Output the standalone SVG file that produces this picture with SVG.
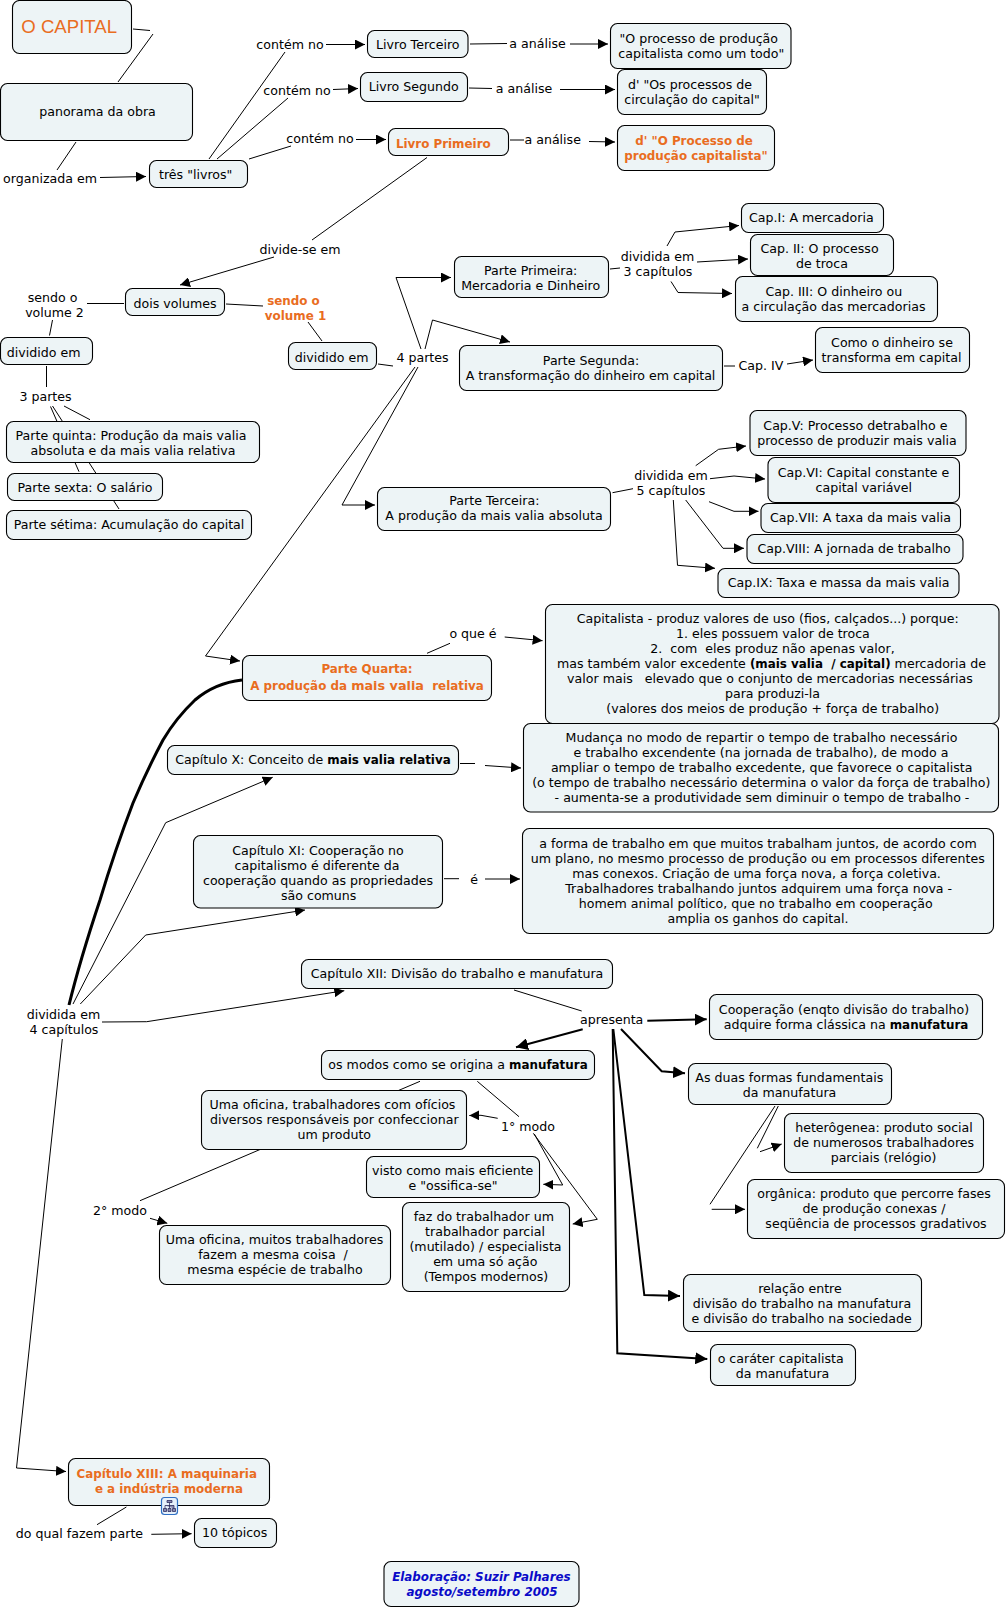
<svg xmlns="http://www.w3.org/2000/svg" width="1007" height="1609" viewBox="0 0 1007 1609">
<style>
text{font-family:"DejaVu Sans","Liberation Sans",sans-serif;font-size:12.6px;fill:#000;text-anchor:middle;white-space:pre}
.n{fill:#edf4f6;stroke:#000;stroke-width:1.1}
.b,text .b{font-weight:bold;font-size:11.9px}
.o,text .o{fill:#e96d1f;font-weight:bold;font-size:11.9px}
.c path{fill:none;stroke:#000;stroke-width:1}
.c .t{stroke-width:2;marker-end:url(#ahb)}
.c .a{marker-end:url(#ah)}
.c .t.a{marker-end:url(#ahb)}
</style>
<defs>
<marker id="ah" markerUnits="userSpaceOnUse" markerWidth="10" markerHeight="10" refX="10" refY="5" orient="auto" viewBox="0 0 10 10"><path d="M0,0L10,5L0,10z" fill="#000"/></marker>
<marker id="ahb" markerUnits="userSpaceOnUse" markerWidth="12" markerHeight="12" refX="10" refY="5" orient="auto" viewBox="0 0 10 10"><path d="M0,0L10,5L0,10z" fill="#000"/></marker>
</defs>
<rect width="1007" height="1609" fill="#fff"/>
<g id="connectors" class="c">
<path d="M133,29L150,30.5"/><path d="M153,34L118,82"/>
<path d="M76,142L57,170"/><path class="a" d="M100,177.5L146,176.5"/>
<path d="M209,159L285,52"/><path class="a" d="M326,44.5L365,44.5"/>
<path d="M217,159L288,98"/><path class="a" d="M333,89.5L358,88.5"/>
<path d="M249,159L291,146"/><path class="a" d="M356,139.5L386,139.5"/>
<path d="M470,44L507,43.5"/><path class="a" d="M570,44L608,44"/>
<path d="M469,88L492,88.5"/><path class="a" d="M560,89.5L615,89.5"/>
<path d="M510,140L524,140"/><path class="a" d="M589,141.5L615,142"/>
<path d="M427,157.5L312,240"/><path class="a" d="M274,257L180,285"/>
<path d="M124,303.5L87,303.5"/><path d="M52.5,320L49.5,335.5"/>
<path d="M46.5,366L46.5,387"/>
<path d="M226,304L263,306"/><path d="M308,322L322,341"/>
<path d="M378,364L393,366"/>
<path class="a" d="M421,349L396,277.5L451,277.5"/>
<path class="a" d="M425,349L432.5,320L510,342"/>
<path class="a" d="M418,367L342,505L375,505"/>
<path class="a" d="M415,367L205.5,656L240,661"/>
<path d="M610,269L620,268"/>
<path class="a" d="M667,246L675,232L739,225.5"/>
<path class="a" d="M697,262L748,259"/>
<path class="a" d="M671,281.5L678,292.5L732,293.5"/>
<path d="M724,366L735,366"/><path class="a" d="M787,364L813,360"/>
<path d="M50.5,406.5L79,471.7"/><path d="M52.5,406L119,509"/><path d="M64,406L90,419.7"/>
<path d="M612.5,492.7L633,488.7"/>
<path class="a" d="M695.7,465.7L718.6,449.3L746,446"/>
<path class="a" d="M710,478.7L734,476L765,479"/>
<path class="a" d="M709,501.7L734,511.3L758.5,511.3"/>
<path class="a" d="M685.7,500L723,548.3L744,548.3"/>
<path class="a" d="M673.3,500L677.5,565.3L715,568.3"/>
<path d="M427,653.3L450,643.3"/><path class="a" d="M504.7,637L542.6,640.7"/>
<path style="stroke-width:3" d="M242,680Q215,683 195,700Q176,718 163,740Q147,770 133,803Q115,850 100,900Q80,960 69,1005"/>
<path class="a" d="M73,1004L165.7,822.7L272.7,777.3"/>
<path class="a" d="M80.3,1004L145.7,935L305,910"/>
<path class="a" d="M102,1022L146.7,1021.7L344.3,990.7"/>
<path class="a" d="M62.3,1039L16.5,1468L66,1471.5"/>
<path d="M460,763.5L475,763.5"/><path class="a" d="M485,765.5L521,768"/>
<path d="M444,878.7L459,878.7"/><path class="a" d="M485,879L520,879"/>
<path d="M514,990L581.7,1011"/>
<path class="a t" d="M647.3,1020.7L706.7,1019.3"/>
<path class="a t" d="M582.7,1029.3L516,1047.3"/>
<path class="a t" d="M621,1029L661.7,1071.3L685,1073.3"/>
<path class="a t" d="M613.3,1029L644.3,1295L680,1296"/>
<path class="a t" d="M612.7,1029L617.3,1353.3L707.3,1359"/>
<path d="M420,1081.3L140,1200.7"/>
<path class="a" d="M150,1218.3L167.3,1223.3"/>
<path d="M477.3,1081.3L519,1116.7"/>
<path class="a" d="M497.7,1118.3L481,1115.3L469.3,1115.5"/>
<path class="a" d="M534.3,1134L562.7,1185L543.3,1184.3"/>
<path class="a" d="M533.3,1133.3L597.3,1219.3L572.7,1224"/>
<path d="M778.3,1106L757.3,1148.3"/><path class="a" d="M760,1151.7L781.7,1144"/>
<path d="M775,1106L710,1204.3"/><path class="a" d="M711.7,1209.3L745,1209.3"/>
<path d="M126.4,1507L97,1524.7"/><path class="a" d="M151.3,1534.3L191.6,1533.7"/>
</g>
<g id="labels">
<text x="290" y="49">contém no</text>
<text x="297" y="95">contém no</text>
<text x="320" y="143">contém no</text>
<text x="50" y="183">organizada em</text>
<text x="537.5" y="48">a análise</text>
<text x="524" y="93">a análise</text>
<text x="552.7" y="144">a análise</text>
<text x="300" y="254">divide-se em</text>
<text x="52.5" y="302">sendo o</text><text x="54.5" y="317">volume 2</text>
<text class="o" x="293.5" y="305">sendo o</text><text class="o" x="295.5" y="320">volume 1</text>
<text x="422.5" y="362">4 partes</text>
<text x="45.5" y="401">3 partes</text>
<text x="657.5" y="261">dividida em</text><text x="658" y="276">3 capítulos</text>
<text x="761" y="370">Cap. IV</text>
<text x="671" y="480">dividida em</text><text x="671" y="495">5 capítulos</text>
<text x="473" y="638">o que é</text>
<text x="474" y="884">é</text>
<text x="63.5" y="1019">dividida em</text><text x="64" y="1034">4 capítulos</text>
<text x="611.7" y="1024">apresenta</text>
<text x="528" y="1131">1° modo</text>
<text x="120" y="1215">2° modo</text>
<text x="79.5" y="1538">do qual fazem parte</text>
</g>
<g id="n1"><rect class="n" x="12.5" y="0.5" width="119" height="53" rx="7"/><text x="69.2" y="33" style="font-family:'Liberation Sans',sans-serif;font-size:18.6px;fill:#e96d1f">O CAPITAL</text></g>
<g id="n2"><rect class="n" x="0.5" y="83.5" width="192" height="57" rx="7"/><text x="97.5" y="116">panorama da obra</text></g>
<g id="n3"><rect class="n" x="149.5" y="160.5" width="98" height="27" rx="7"/><text x="195.7" y="179">três "livros"</text></g>
<g id="n4"><rect class="n" x="367.5" y="30.5" width="100.5" height="27" rx="7"/><text x="417.8" y="49">Livro Terceiro</text></g>
<g id="n5"><rect class="n" x="360.5" y="72.5" width="107" height="29" rx="7"/><text x="413.7" y="91">Livro Segundo</text></g>
<g id="n6"><rect class="n" x="388.5" y="128.5" width="120" height="27" rx="7"/><text class="o" x="443.3" y="148">Livro Primeiro</text></g>
<g id="n7"><rect class="n" x="610.5" y="23.5" width="180.5" height="45" rx="7"/><text x="698.8" y="43.3">"O processo de produção</text><text x="701.3" y="58.3">capitalista como um todo"</text></g>
<g id="n8"><rect class="n" x="617.5" y="69.5" width="149" height="45" rx="7"/><text x="690" y="89">d' "Os processos de</text><text x="692" y="104">circulação do capital"</text></g>
<g id="n9"><rect class="n" x="617.5" y="125.5" width="157" height="45" rx="7"/><text class="o" x="694" y="145.3">d' "O Processo de</text><text class="o" x="696" y="160.3">produção capitalista"</text></g>
<g id="n10"><rect class="n" x="741.5" y="203.5" width="142" height="29" rx="7"/><text x="811.3" y="222">Cap.I: A mercadoria</text></g>
<g id="n11"><rect class="n" x="750.5" y="234.5" width="143" height="41" rx="7"/><text x="819.5" y="253.3">Cap. II: O processo</text><text x="822" y="268.3">de troca</text></g>
<g id="n12"><rect class="n" x="735.5" y="276.5" width="202" height="45" rx="7"/><text x="833.8" y="296.3">Cap. III: O dinheiro ou</text><text x="833.5" y="311.3">a circulação das mercadorias</text></g>
<g id="n13"><rect class="n" x="454.5" y="256.5" width="154" height="41" rx="7"/><text x="530.7" y="275">Parte Primeira:</text><text x="530.7" y="290">Mercadoria e Dinheiro</text></g>
<g id="n14"><rect class="n" x="459.5" y="345.5" width="263" height="45" rx="7"/><text x="591" y="365">Parte Segunda:</text><text x="590.5" y="380">A transformação do dinheiro em capital</text></g>
<g id="n15"><rect class="n" x="815.5" y="327.5" width="154" height="45" rx="7"/><text x="892" y="347">Como o dinheiro se</text><text x="891.5" y="362">transforma em capital</text></g>
<g id="n16"><rect class="n" x="125.5" y="288.5" width="99" height="27" rx="7"/><text x="175" y="308">dois volumes</text></g>
<g id="n17"><rect class="n" x="0.5" y="337.5" width="92" height="27" rx="7"/><text x="43.7" y="357">dividido em</text></g>
<g id="n18"><rect class="n" x="288.5" y="342.5" width="88" height="27" rx="7"/><text x="331.7" y="362">dividido em</text></g>
<g id="n19"><rect class="n" x="6.5" y="421.5" width="253" height="41" rx="7"/><text x="131" y="440">Parte quinta: Produção da mais valia</text><text x="133" y="455">absoluta e da mais valia relativa</text></g>
<g id="n20"><rect class="n" x="7.5" y="473.5" width="155" height="27" rx="7"/><text x="85" y="492">Parte sexta: O salário</text></g>
<g id="n21"><rect class="n" x="6.5" y="510.5" width="245" height="29" rx="7"/><text x="129" y="529">Parte sétima: Acumulação do capital</text></g>
<g id="n22"><rect class="n" x="377.5" y="487.5" width="233" height="43" rx="7"/><text x="494.4" y="505">Parte Terceira:</text><text x="494" y="520">A produção da mais valia absoluta</text></g>
<g id="n23"><rect class="n" x="750" y="410.5" width="216" height="45" rx="7"/><text x="855.4" y="430">Cap.V: Processo detrabalho e</text><text x="857" y="445">processo de produzir mais valia</text></g>
<g id="n24"><rect class="n" x="768" y="457.5" width="191.5" height="45" rx="7"/><text x="863.4" y="477">Cap.VI: Capital constante e</text><text x="863.8" y="492">capital variável</text></g>
<g id="n25"><rect class="n" x="761" y="503.5" width="199.5" height="29" rx="7"/><text x="860.5" y="522">Cap.VII: A taxa da mais valia</text></g>
<g id="n26"><rect class="n" x="747" y="534.5" width="216" height="29" rx="7"/><text x="854" y="553">Cap.VIII: A jornada de trabalho</text></g>
<g id="n27"><rect class="n" x="718" y="568.5" width="241" height="29" rx="7"/><text x="838.6" y="587">Cap.IX: Taxa e massa da mais valia</text></g>
<g id="n28"><rect class="n" x="545.5" y="604.5" width="453.5" height="119" rx="7"/>
<text x="767.8" y="623">Capitalista - produz valores de uso (fios, calçados...) porque:</text>
<text x="772.9" y="638">1. eles possuem valor de troca</text>
<text x="772.5" y="653">2.  com  eles produz não apenas valor,</text>
<text x="771.5" y="668">mas também valor excedente <tspan class="b">(mais valia  / capital)</tspan> mercadoria de</text>
<text x="770" y="683">valor mais   elevado que o conjunto de mercadorias necessárias</text>
<text x="772.5" y="698">para produzi-la</text>
<text x="772.7" y="713">(valores dos meios de produção + força de trabalho)</text></g>
<g id="n29"><rect class="n" x="242.5" y="655.5" width="249" height="45" rx="7"/><text class="o" x="367" y="673">Parte Quarta:</text><text class="o" x="367" y="690">A produção da <tspan style="font-size:12.8px">mais valia</tspan>  relativa</text></g>
<g id="n30"><rect class="n" x="167.5" y="745.5" width="291" height="29" rx="7"/><text x="313" y="764">Capítulo X: Conceito de <tspan class="b">mais valia relativa</tspan></text></g>
<g id="n31"><rect class="n" x="523.5" y="723.5" width="475" height="88.5" rx="7"/>
<text x="761.5" y="742">Mudança no modo de repartir o tempo de trabalho necessário</text>
<text x="761" y="757">e trabalho excendente (na jornada de trabalho), de modo a</text>
<text x="761.7" y="772">ampliar o tempo de trabalho excedente, que favorece o capitalista</text>
<text x="761.3" y="787">(o tempo de trabalho necessário determina o valor da força de trabalho)</text>
<text x="762" y="802">- aumenta-se a produtividade sem diminuir o tempo de trabalho -</text></g>
<g id="n32"><rect class="n" x="193.5" y="835.5" width="249" height="72.5" rx="7"/>
<text x="318" y="855">Capítulo XI: Cooperação no</text><text x="317" y="870">capitalismo é diferente da</text><text x="318" y="885">cooperação quando as propriedades</text><text x="318.7" y="900">são comuns</text></g>
<g id="n33"><rect class="n" x="522.5" y="828.5" width="471" height="105" rx="7"/>
<text x="758" y="848">a forma de trabalho em que muitos trabalham juntos, de acordo com</text>
<text x="757.8" y="863">um plano, no mesmo processo de produção ou em processos diferentes</text>
<text x="756.5" y="878">mas conexos. Criação de uma força nova, a força coletiva.</text>
<text x="758.7" y="893">Trabalhadores trabalhando juntos adquirem uma força nova -</text>
<text x="755.8" y="908">homem animal político, que no trabalho em cooperação</text>
<text x="758" y="923">amplia os ganhos do capital.</text></g>
<g id="n34"><rect class="n" x="301.5" y="959.5" width="311" height="29" rx="7"/><text x="457" y="978">Capítulo XII: Divisão do trabalho e manufatura</text></g>
<g id="n35"><rect class="n" x="709.5" y="994.5" width="273" height="45" rx="7"/><text x="844" y="1014">Cooperação (enqto divisão do trabalho)</text><text x="846" y="1029">adquire forma clássica na <tspan class="b">manufatura</tspan></text></g>
<g id="n36"><rect class="n" x="321.5" y="1050.5" width="273" height="29" rx="7"/><text x="458" y="1069">os modos como se origina a <tspan class="b">manufatura</tspan></text></g>
<g id="n37"><rect class="n" x="201.5" y="1090.5" width="265" height="59" rx="7"/><text x="332.5" y="1109">Uma oficina, trabalhadores com ofícios</text><text x="334.3" y="1124">diversos responsáveis por confeccionar</text><text x="334.3" y="1139">um produto</text></g>
<g id="n38"><rect class="n" x="366.5" y="1156.5" width="173" height="41" rx="7"/><text x="452.7" y="1175">visto como mais eficiente</text><text x="453" y="1190">e "ossifica-se"</text></g>
<g id="n39"><rect class="n" x="402.5" y="1202.5" width="167" height="89" rx="7"/><text x="483.8" y="1221">faz do trabalhador um</text><text x="485" y="1236">trabalhador parcial</text><text x="485.5" y="1251">(mutilado) / especialista</text><text x="485.3" y="1266">em uma só ação</text><text x="486" y="1281">(Tempos modernos)</text></g>
<g id="n40"><rect class="n" x="159.5" y="1225.5" width="231" height="59" rx="7"/><text x="274.5" y="1244">Uma oficina, muitos trabalhadores</text><text x="273" y="1259">fazem a mesma coisa  /</text><text x="275" y="1274">mesma espécie de trabalho</text></g>
<g id="n41"><rect class="n" x="688.5" y="1063.5" width="203" height="41" rx="7"/><text x="789.3" y="1082">As duas formas fundamentais</text><text x="789.5" y="1097">da manufatura</text></g>
<g id="n42"><rect class="n" x="784.5" y="1113.5" width="199" height="59" rx="7"/><text x="884" y="1132">heterôgenea: produto social</text><text x="883.7" y="1147">de numerosos trabalhadores</text><text x="883.5" y="1162">parciais (relógio)</text></g>
<g id="n43"><rect class="n" x="747.5" y="1179.5" width="257" height="59" rx="7"/><text x="874" y="1198">orgânica: produto que percorre fases</text><text x="874" y="1213">de produção conexas /</text><text x="876" y="1228">seqüência de processos gradativos</text></g>
<g id="n44"><rect class="n" x="683.5" y="1274.5" width="238" height="57" rx="7"/><text x="800" y="1293">relação entre</text><text x="802" y="1308">divisão do trabalho na manufatura</text><text x="801.7" y="1323">e divisão do trabalho na sociedade</text></g>
<g id="n45"><rect class="n" x="710.5" y="1344.5" width="145" height="41" rx="7"/><text x="780.7" y="1363">o caráter capitalista</text><text x="782.5" y="1378">da manufatura</text></g>
<g id="n46"><rect class="n" x="68.5" y="1458.5" width="201" height="47" rx="7"/><text class="o" x="166.7" y="1478">Capítulo XIII: A maquinaria</text><text class="o" x="169" y="1493">e a indústria moderna</text>
<rect x="161.5" y="1497.5" width="16" height="17" rx="3" fill="#e6f0fa" stroke="#2f6fc4" stroke-width="1.2"/><path d="M167,1500.5h5v2h-5zM169.5,1502.5v6M165,1505.5h9v3M165,1505.5v3M163.5,1508.5h3v3h-3zM168,1508.5h3v3h-3zM172.5,1508.5h3v3h-3z" fill="#8a8ab0" stroke="#1b1b50" stroke-width=".7"/></g>
<g id="n47"><rect class="n" x="194.5" y="1518.5" width="82" height="29" rx="7"/><text x="234.7" y="1537">10 tópicos</text></g>
<g id="n48"><rect class="n" x="384" y="1561.5" width="195" height="45" rx="7"/><text x="481.4" y="1581" style="font-weight:bold;font-style:italic;font-size:11.9px;fill:#0a0ac8">Elaboração: Suzir Palhares</text><text x="482" y="1596" style="font-weight:bold;font-style:italic;font-size:11.9px;fill:#0a0ac8">agosto/setembro 2005</text></g>
</svg>
